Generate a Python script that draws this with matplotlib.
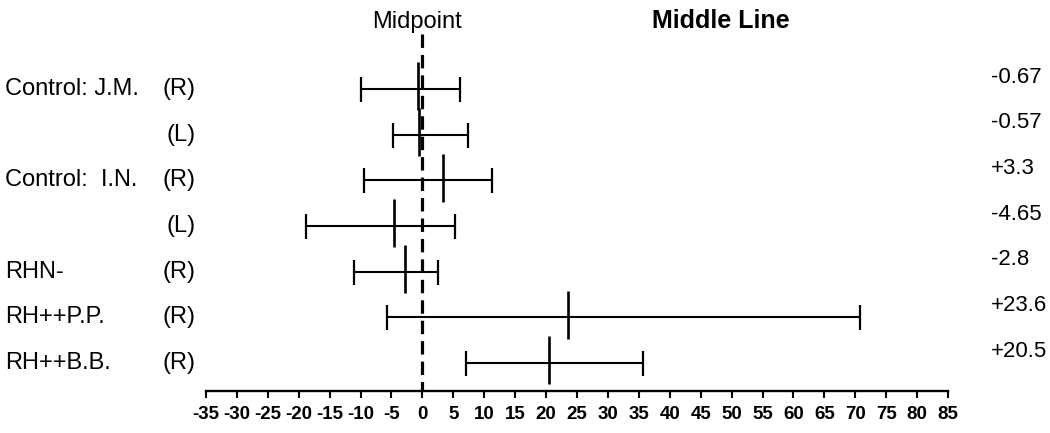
import matplotlib
matplotlib.use("Agg")
import matplotlib.pyplot as plt
import matplotlib.transforms as mtransforms

plt.rcParams["font.family"] = ["Liberation Sans", "DejaVu Sans"]
plt.rcParams["axes.unicode_minus"] = False

# Subjects, side tested, and the bisection results (mean and range)
names = ["Control: J.M.", "", "Control:  I.N.", "", "RHN-", "RH++P.P.", "RH++B.B."]
sides = ["(R)", "(L)", "(R)", "(L)", "(R)", "(R)", "(R)"]
means = [-0.67, -0.57, 3.3, -4.65, -2.8, 23.6, 20.5]
mean_labels = ["-0.67", "-0.57", "+3.3", "-4.65", "-2.8", "+23.6", "+20.5"]
lows = [-9.9, -4.7, -9.4, -18.8, -11.0, -5.7, 7.0]
highs = [6.0, 7.4, 11.3, 5.3, 2.6, 70.7, 35.6]
ticks = [-35, -30, -25, -20, -15, -10, -5, 0, 5, 10, 15, 20, 25, 30, 35,
         40, 45, 50, 55, 60, 65, 70, 75, 80, 85]
tick_labels = ["-35", "-30", "-25", "-20", "-15", "-10", "-5", "0", "5", "10",
               "15", "20", "25", "30", "35", "40", "45", "50", "55", "60",
               "65", "70", "75", "80", "85"]

W, H = 1050, 433
fig = plt.figure(figsize=(W / 100, H / 100), dpi=100)
fig.patch.set_facecolor("white")

ax_left, ax_right = 206, 948
ax_top, ax_bottom = 29.6, 391
ax = fig.add_axes([ax_left / W, (H - ax_bottom) / H,
                   (ax_right - ax_left) / W, (ax_bottom - ax_top) / H])
ax.set_xlim(-35, 85)
ax.set_ylim(6.613, -1.3)

rows = list(range(len(means)))

# Ranges with caps
xerr = [[m - lo for m, lo in zip(means, lows)],
        [hi - m for m, hi in zip(means, highs)]]
ax.errorbar(means, rows, xerr=xerr, fmt="none", ecolor="black",
            elinewidth=1.5, capsize=9, capthick=1.6, zorder=3)
# Mean markers
ax.plot(means, [r - 0.06 for r in rows], linestyle="none", marker="|",
        markersize=35, markeredgewidth=1.9, color="black", zorder=4)

# Midpoint dashed line
ax.vlines(0, -1.2, 6.613, colors="black", linewidth=2.3,
          linestyles=(0, (4.2, 2.2)), zorder=5)

# Axis styling
for s in ["top", "left", "right"]:
    ax.spines[s].set_visible(False)
ax.spines["bottom"].set_linewidth(1.7)
ax.set_yticks([])
ax.set_xticks(ticks)
ax.set_xticklabels(tick_labels, fontsize=13.5, fontweight="bold")
ax.tick_params(axis="x", direction="out", length=5, width=1.5, pad=6)

# Row labels on the left, values on the right
trans = mtransforms.blended_transform_factory(fig.transFigure, ax.transData)
for r, (n, s, lab) in enumerate(zip(names, sides, mean_labels)):
    if n:
        ax.text(5 / W, r, n, transform=trans, ha="left", va="center",
                fontsize=17, clip_on=False)
    ax.text(196 / W, r, s, transform=trans, ha="right", va="center",
            fontsize=17, clip_on=False)
    ax.text(991 / W, r - 0.26, lab, transform=trans, ha="left", va="center",
            fontsize=16, clip_on=False)

fig.text(417 / W, 1 - 22 / H, "Midpoint", ha="center", va="center", fontsize=17)
fig.text(721 / W, 1 - 21 / H, "Middle Line", ha="center", va="center",
         fontsize=18, fontweight="bold")

fig.savefig("out.png", dpi=100, facecolor="white")
